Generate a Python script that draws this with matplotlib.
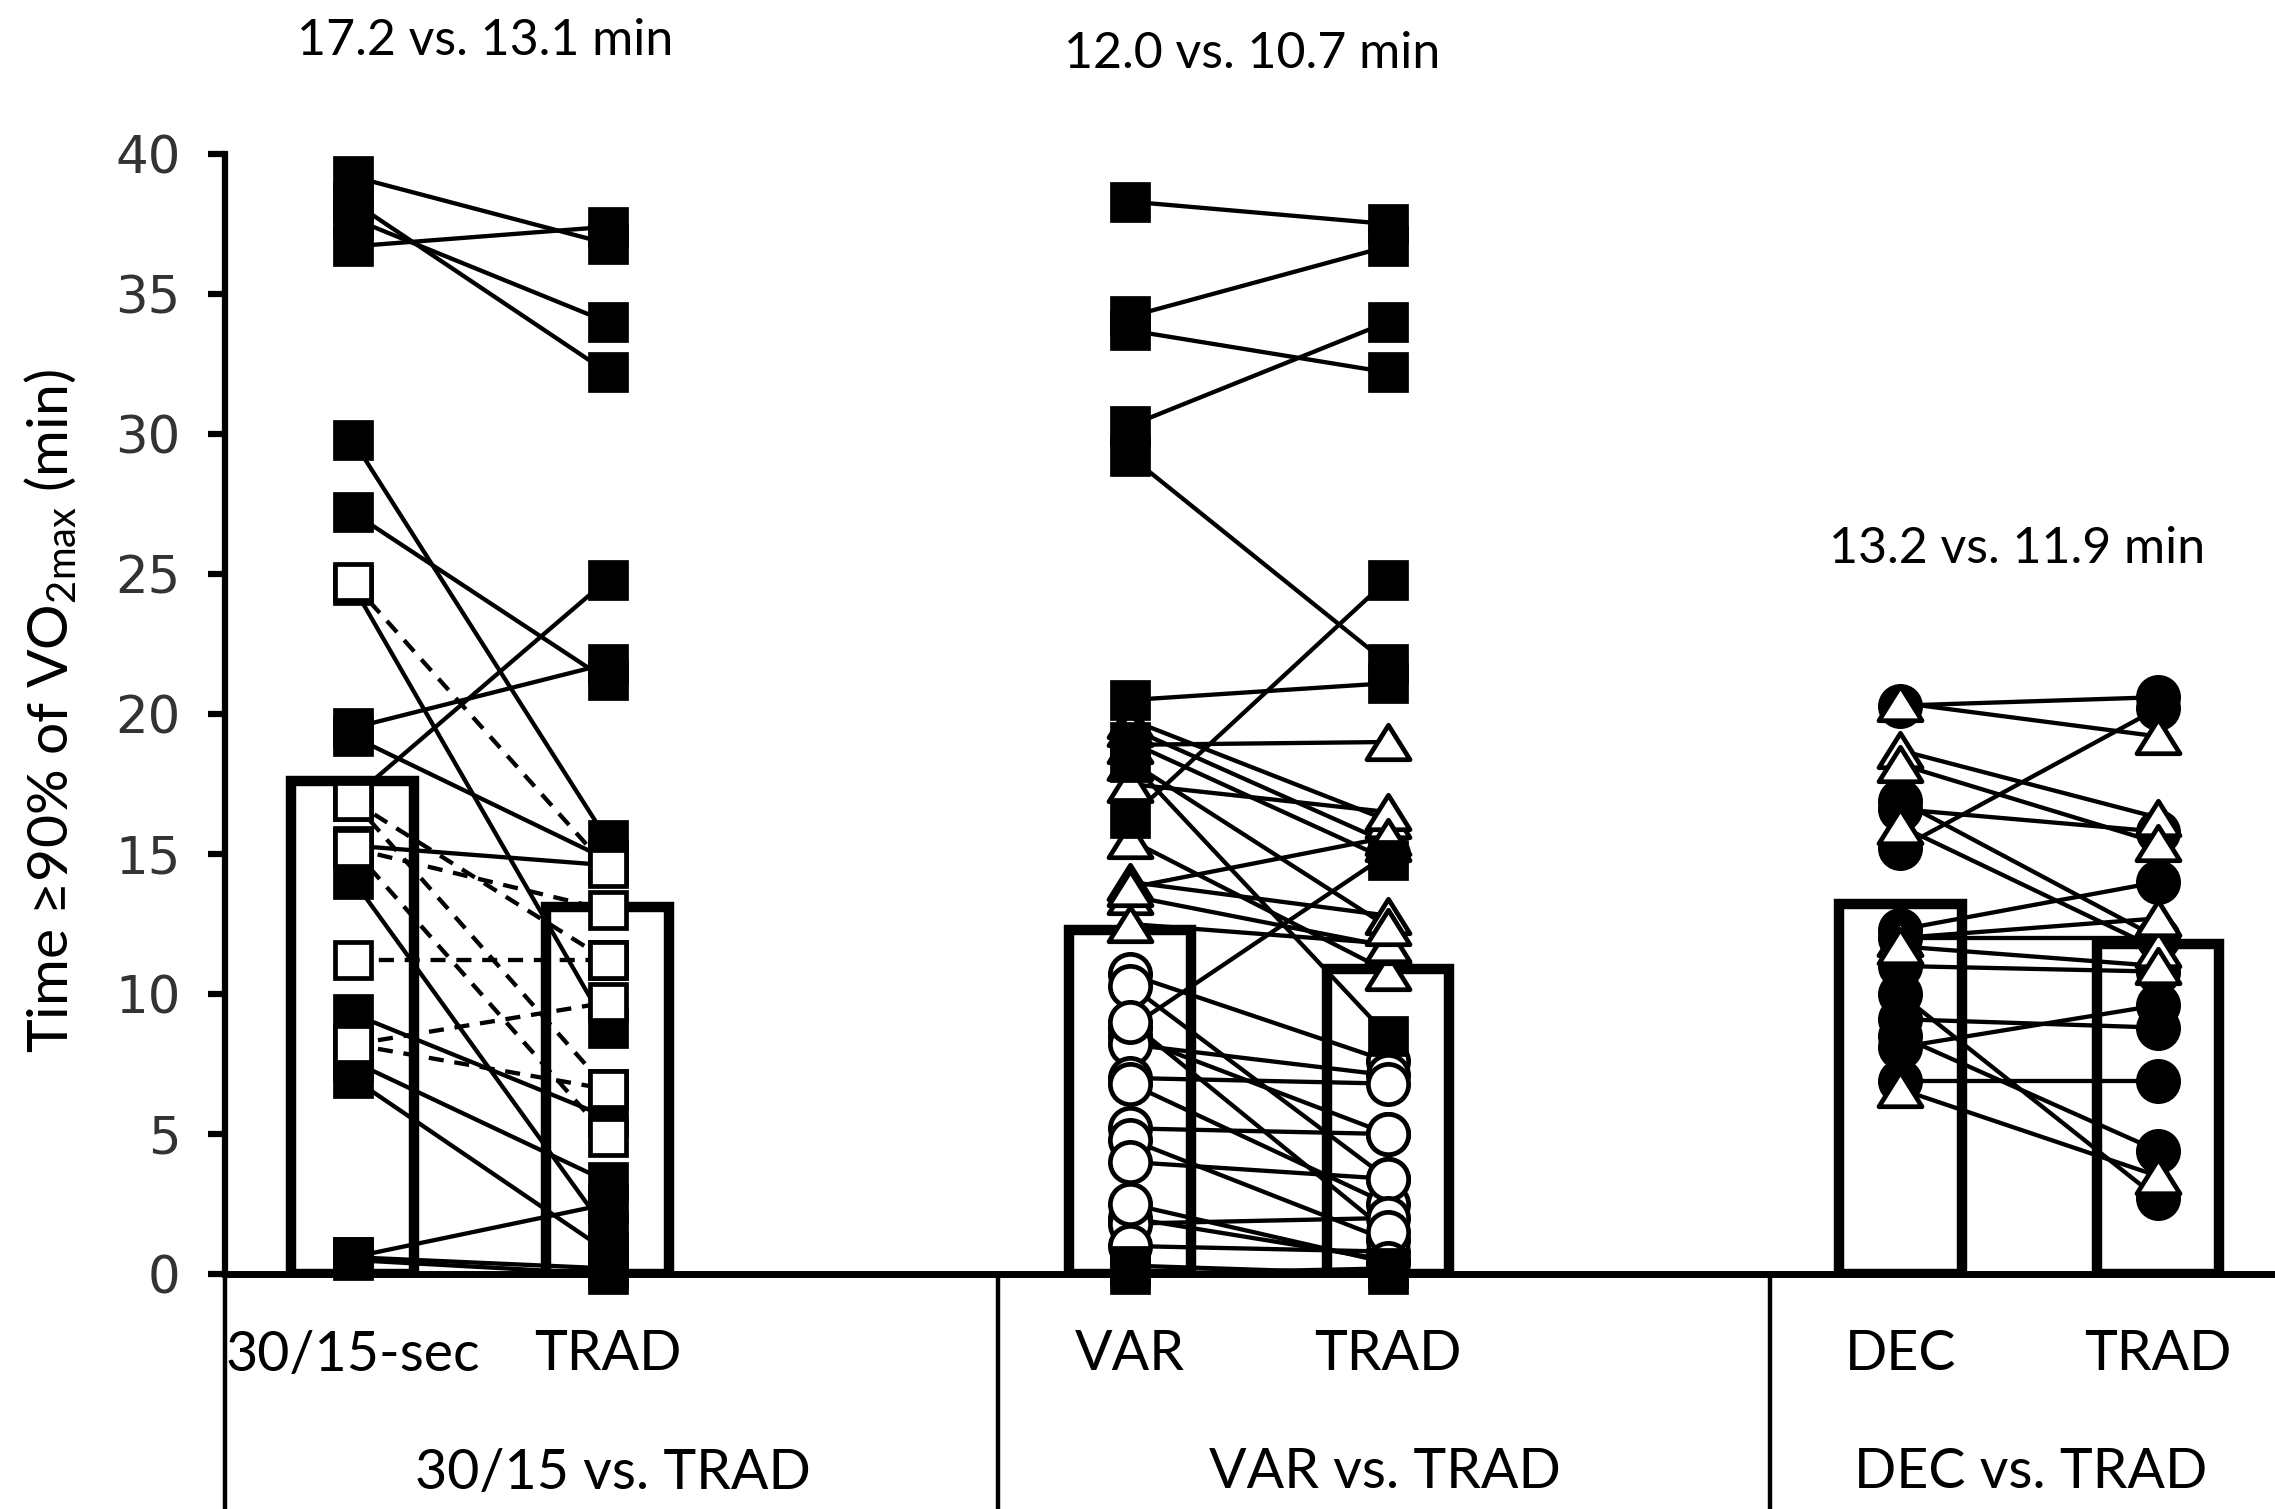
import matplotlib
matplotlib.use("Agg")
import matplotlib.pyplot as plt
import numpy as np
from matplotlib.path import Path

plt.rcParams["font.family"] = ["Lato", "DejaVu Sans"]
plt.rcParams["mathtext.default"] = "regular"

# ---- data (minutes >= 90% VO2max), left = new protocol, right = TRAD ----
BAR_HEIGHTS = [17.6, 13.1, 12.3, 10.9, 13.2, 11.8]
CAT_LABELS = ["30/15-sec", "TRAD", "VAR", "TRAD", "DEC", "TRAD"]
GROUP_LABELS = ["30/15 vs. TRAD", "VAR vs. TRAD", "DEC vs. TRAD"]
MEAN_TEXT = ["17.2 vs. 13.1 min", "12.0 vs. 10.7 min", "13.2 vs. 11.9 min"]

# 30/15 vs TRAD: filled squares (solid) and open squares (dashed)
g1_sq_left = [39.2, 36.7, 38.3, 37.7, 29.8, 27.2, 19.5, 17.0, 19.2, 24.6, 15.3, 14.1, 9.3, 7.6, 7.0, 0.6, 0.6, 0.5]
g1_sq_right = [36.8, 37.4, 32.2, 34.0, 15.5, 21.2, 21.8, 24.8, 14.8, 8.8, 14.6, 1.5, 5.6, 3.3, 0.8, 2.5, 0.2, 0.0]
g1_open_left = [24.7, 16.9, 16.9, 15.2, 15.2, 11.2, 8.2, 8.2]
g1_open_right = [14.5, 11.2, 6.6, 13.0, 4.9, 11.2, 9.7, 6.6]

# VAR vs TRAD: filled squares, open triangles, open circles
g2_sq_left = [38.3, 34.2, 33.7, 30.3, 29.2, 20.5, 16.3, 19.0, 18.3, 0.3, 0.0]
g2_sq_right = [37.5, 36.7, 32.2, 34.0, 21.8, 21.1, 24.8, 14.8, 8.5, 0.0, 0.2]
g2_tri_left = [19.8, 19.5, 18.9, 17.5, 15.5, 14.0, 13.5, 12.5, 13.8, 18.3]
g2_tri_right = [16.2, 15.4, 19.0, 16.5, 10.8, 12.8, 11.7, 11.8, 15.6, 12.4]
g2_cir_left = [10.7, 10.3, 8.8, 8.5, 8.2, 7.0, 6.8, 5.2, 4.8, 4.0, 2.0, 1.8, 1.0, 9.0, 2.5]
g2_cir_right = [7.6, 3.4, 15.0, 5.0, 7.1, 6.8, 2.5, 5.0, 1.2, 3.4, 0.5, 2.0, 0.8, 1.5, 0.4]

# DEC vs TRAD: open triangles, filled circles
g3_tri_left = [20.4, 18.7, 18.2, 16.0, 12.0, 11.7, 6.6]
g3_tri_right = [19.2, 16.3, 15.4, 11.6, 12.7, 11.0, 3.5]
g3_cir_left = [20.3, 15.2, 16.9, 16.6, 12.3, 12.0, 11.0, 10.0, 9.1, 8.1, 8.5, 6.9]
g3_cir_right = [20.6, 20.2, 12.0, 15.8, 14.0, 12.0, 10.8, 2.7, 8.8, 9.6, 4.4, 6.9]

# ---- layout ----
W, H = 2275, 1509
X = [0.5, 1.5, 3.55, 4.56, 6.57, 7.58]
SEPS = [0.0, 3.03, 6.06]
TRI = Path([(-1, -0.8), (1, -0.8), (0, 0.8), (-1, -0.8)],
           [Path.MOVETO, Path.LINETO, Path.LINETO, Path.CLOSEPOLY])

fig = plt.figure(figsize=(W / 100, H / 100), dpi=100)
ax = fig.add_axes([225 / W, 235 / H, 1 - 225 / W, 1120 / H])


def pairs(x0, x1, left, right, marker, filled, dashed=False, z=4):
    for a, b in zip(left, right):
        ax.plot([x0, x1], [a, b], color="black", lw=3.1,
                ls=(0, (3.5, 2.5)) if dashed else "-", zorder=2, clip_on=False)
    face = "black" if filled else "white"
    ms = 26 if marker == "s" else (29 if marker == "o" else 31)
    for xx, vals in ((x0, left), (x1, right)):
        ax.plot([xx] * len(vals), vals, ls="none", marker=marker, ms=ms,
                mfc=face, mec="black", mew=3.4, zorder=z, clip_on=False)


ax.bar(X, BAR_HEIGHTS, width=0.48, facecolor="none", edgecolor="black",
       linewidth=7.5, zorder=3)

pairs(X[0], X[1], g1_sq_left, g1_sq_right, "s", True, z=4)
pairs(X[0], X[1], g1_open_left, g1_open_right, "s", False, dashed=True, z=5)

pairs(X[2], X[3], g2_cir_left, g2_cir_right, "o", False, z=4)
pairs(X[2], X[3], g2_tri_left, g2_tri_right, TRI, False, z=5)
pairs(X[2], X[3], g2_sq_left, g2_sq_right, "s", True, z=6)

pairs(X[4], X[5], g3_cir_left, g3_cir_right, "o", True, z=4)
pairs(X[4], X[5], g3_tri_left, g3_tri_right, TRI, False, z=5)

ax.set_xlim(0, 2050 / 255)
ax.set_ylim(0, 40)
ax.set_yticks(np.arange(0, 41, 5))
ax.set_xticks([])
for s in ("top", "right"):
    ax.spines[s].set_visible(False)
ax.spines["left"].set_linewidth(4.5)
ax.spines["bottom"].set_linewidth(5)
ax.spines["bottom"].set_zorder(7)
ax.tick_params(axis="y", direction="out", length=12, width=4.5, pad=20,
               labelsize=37)
for t in ax.get_yticklabels():
    t.set_fontfamily("DejaVu Sans")
    t.set_color("#333333")

# multi-level category axis below the plot
tr = ax.get_xaxis_transform()
ybot = -(235 / H) / (1120 / H)
for s in SEPS:
    ax.plot([s, s], [0, ybot], color="black", lw=3.2, transform=tr, clip_on=False)
for xx, lab in zip(X, CAT_LABELS):
    ax.text(xx, -(235 - 154) / 1120, lab, transform=tr, ha="center", va="center",
            fontsize=40)
grp_x = [1.52, 4.55, 7.08]
for xx, lab in zip(grp_x, GROUP_LABELS):
    ax.text(xx, -(235 - 36) / 1120, lab, transform=tr, ha="center", va="center",
            fontsize=40)

fig.text(51 / W, 0.529, "Time \u226590% of VO$_{2max}$ (min)", rotation=90,
         ha="center", va="center", fontsize=41)

for (fx, fy), txt in zip([(485, 41), (1252, 54), (2017, 549)], MEAN_TEXT):
    fig.text(fx / W, 1 - fy / H, txt, ha="center", va="center", fontsize=36)

fig.savefig("out.png", dpi=100)
